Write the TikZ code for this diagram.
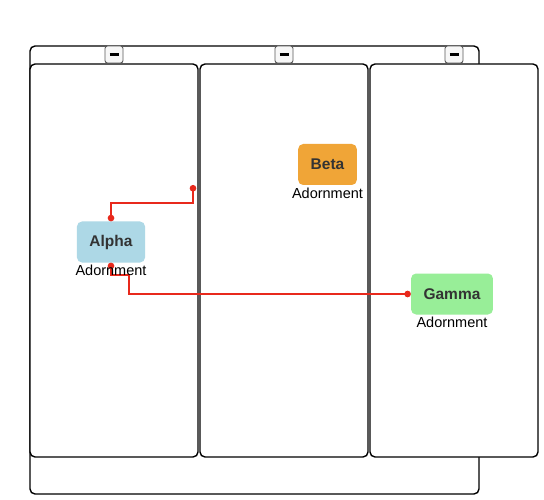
\documentclass[tikz,border=0pt]{standalone}
\usepackage{fontspec}
\setmainfont{Liberation Sans}
\usetikzlibrary{positioning,arrows.meta}

\definecolor{alphablue}{HTML}{ADD8E6}
\definecolor{betaorange}{HTML}{F0A537}
\definecolor{gammagreen}{HTML}{98EE98}
\definecolor{linkred}{HTML}{E8291C}
\definecolor{labelgray}{HTML}{333333}

\tikzset{
    lane/.style={draw=black, fill=white, line width=1.4pt, rounded corners=5pt},
    btn/.style={draw=black!65, fill=black!3, line width=0.9pt, rounded corners=2.5pt, minimum width=18pt, minimum height=17pt, inner sep=0pt},
    item/.style={rounded corners=5pt, minimum height=41pt, inner xsep=12.5pt, text=labelgray,
        font=\fontsize{15.5}{18}\selectfont\bfseries},
    adorn/.style={inner sep=0pt, font=\fontsize{14.5}{17}\selectfont},
    link/.style={draw=linkred, line width=2pt, {Circle[length=6.5pt]}-{Circle[length=6.5pt]}}
}

\begin{document}
\begin{tikzpicture}[x=1pt,y=-1pt]
        \useasboundingbox (0,0) rectangle (544,500);

        % draw the pool frame and the lanes
        \draw[lane] (30,46) rectangle (479,494);
        \foreach \x in {30,200,370}{
            \draw[lane] (\x,64) rectangle ++(168,393);
            \node[btn] (b\x) at (\x+84,54.5) {};
            \draw[line width=2.2pt] ([xshift=-4.5pt]b\x.center) -- ([xshift=4.5pt]b\x.center);
        }

        % the nodes
        \node[item, fill=alphablue] (alpha) at (111,242) {Alpha};
        \node[item, fill=betaorange] (beta) at (327.5,164.5) {Beta};
        \node[item, fill=gammagreen] (gamma) at (452,294) {Gamma};

        % the links (free end of the first one sits near the lane border)
        \coordinate (loose) at (193,185);
        \draw[link] (alpha.north) -- ++(0,-18.5) -| (loose);
        \draw[link] (alpha.south) -- ++(0,12) -- ++(18,0) |- (gamma.west);

        % the adornments
        \node[adorn, below=2.5pt of alpha] (alphaadorn) {Adornment};
        \node[adorn, below=2.5pt of beta] (betaadorn) {Adornment};
        \node[adorn, below=2.5pt of gamma] (gammaadorn) {Adornment};

\end{tikzpicture}
\end{document}
